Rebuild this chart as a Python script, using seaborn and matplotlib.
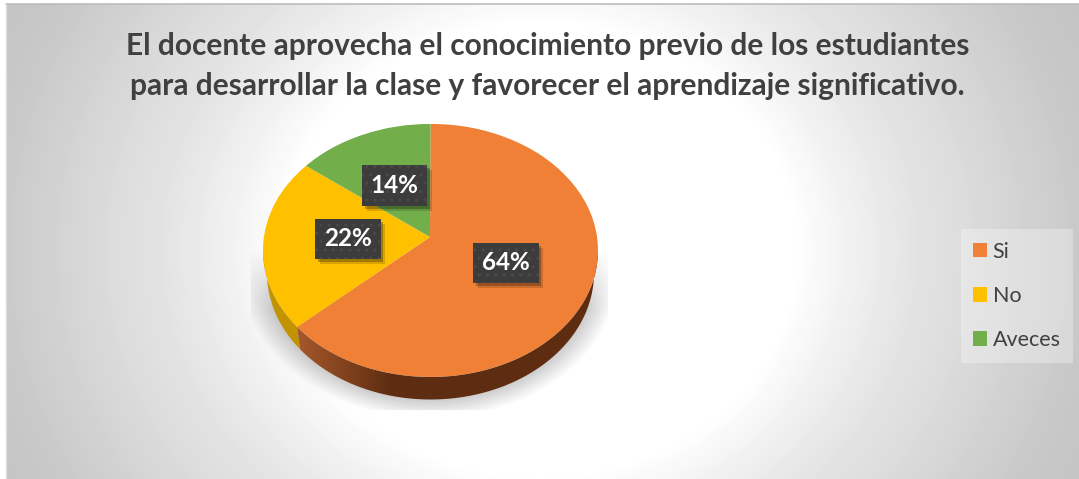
import numpy as np
import matplotlib
matplotlib.use("Agg")
import matplotlib.pyplot as plt
from matplotlib.patches import PathPatch
from matplotlib.path import Path
import matplotlib.patheffects as pe
import seaborn as sns

title_lines = ["El docente aprovecha el conocimiento previo de los estudiantes",
               "para desarrollar la clase y favorecer el aprendizaje significativo."]
categories = ["Si", "No", "Aveces"]
shares = [64, 22, 14]
colors = ["#F08035", "#FFC000", "#72AE4A"]

W, H = 1079, 479
sns.set_theme(style="white")
plt.rcParams["font.family"] = ["Lato", "DejaVu Sans"]
palette = sns.color_palette(colors)
TXT = "#404040"

fig = plt.figure(figsize=(W / 100, H / 100), dpi=100, facecolor="white")

# --- chart area with radial gradient
L, T = 6, 4
bg = fig.add_axes([L / W, 0, (W - L) / W, (H - T) / H], zorder=0)
bg.set_axis_off()
xx, yy = np.meshgrid(np.arange(L, W) + .5, np.arange(T, H) + .5)
r = np.sqrt(((xx - 540) / 255) ** 2 + ((yy - 250) / 225) ** 2)
shade = np.interp(r, [1, 1.22, 1.48, 1.68, 2.15, 2.35], [255, 241, 227, 220, 200, 196])
# soft shadow below the pie
d = np.sqrt(((xx - 430) / 180) ** 2 + ((yy - 272) / 140) ** 2)
sh = np.clip((1.05 - d) / .16, 0, 1) * 0.23
sh *= np.clip((yy - 250) / 60, 0, 1)
sh[(xx < 251) | (xx > 608) | (yy > 410)] = 0
shade = shade * (1 - sh)
bg.imshow(shade, cmap="gray", vmin=0, vmax=255, aspect="auto",
          extent=(L, W, H, T), interpolation="bilinear")
bg.set_xlim(L, W); bg.set_ylim(H, T)
fig.add_artist(plt.Line2D([L / W, 1], [1 - (T - .5) / H] * 2, color="#bcbcbc", lw=1.2))
fig.add_artist(plt.Line2D([(L - .5) / W] * 2, [0, 1 - T / H], color="#dcdcdc", lw=1))

# --- pie axes: x -1..1 => 263..598 px, y -1..1 => 377..124 px
X0, X1, Y0, Y1 = 263, 598, 124, 377
ax = fig.add_axes([X0 / W, 1 - Y1 / H, (X1 - X0) / W, (Y1 - Y0) / H], zorder=1)
wedges, _, autotexts = ax.pie(shares, colors=palette, startangle=90, counterclock=False,
                              autopct=lambda p: f"{p:.0f}%", radius=1, frame=False)
ax.patch.set_visible(False)
ax.set_aspect("auto")
ax.set_xlim(-1, 1); ax.set_ylim(-1, 1)
ax.set_axis_off()
for w in wedges:
    w.set_linewidth(0)
    w.set_zorder(4)


def px(x, y):
    return (x - X0) / (X1 - X0) * 2 - 1, 1 - (y - Y0) / (Y1 - Y0) * 2


TILT = np.deg2rad(3.1)


def tilt(theta):
    """Perspective: angles measured from the top slide slightly towards it."""
    return theta - TILT * np.sin(theta)


# apex of the tilted disc sits above the ellipse centre
apex = px(430, 237)
for w in wedges:
    v = w.get_path().vertices
    rad = np.hypot(v[:, 0], v[:, 1])
    th = np.arctan2(v[:, 0], v[:, 1])
    th = tilt(th)
    v[:, 0] = rad * np.sin(th)
    v[:, 1] = rad * np.cos(th)
    v[rad < 1e-6] = apex

# --- side wall, from the shares
cum = np.cumsum(shares) / np.sum(shares)
ang_oy = np.pi / 2 + tilt(2 * np.pi * (1 - cum[0])) - 2 * np.pi  # orange/yellow boundary
rim_cy = px(430, 273)[1]


def wall(a0, a1):
    t = np.linspace(a0, a1, 80)
    top = np.column_stack([np.cos(t), np.sin(t)])
    low = np.column_stack([np.cos(t[::-1]) * 0.976, np.sin(t[::-1]) + rim_cy])
    return Path(np.vstack([top, low, top[:1]]), closed=True)


p_or = wall(ang_oy, 0.0)
p_ye = wall(-np.pi, ang_oy)
ax.add_patch(PathPatch(p_ye, fc="#C29200", lw=0, zorder=2, clip_on=False))
gx = np.linspace(0, 1, 256)
gradv = np.clip(gx / .32, 0, 1)[None, :]
rgb0 = np.array([0.66, 0.35, 0.17])
rgb1 = np.array([0.37, 0.18, 0.07])
grad = (rgb0[None, None, :] * (1 - gradv[..., None]) + rgb1[None, None, :] * gradv[..., None])
im = ax.imshow(grad, extent=(-0.82, 1, -1.3, 0), aspect="auto", zorder=3, interpolation="bilinear")
im.set_clip_box(fig.bbox)
im.set_clip_path(PathPatch(p_or, transform=ax.transData))
ax.set_xlim(-1, 1); ax.set_ylim(-1, 1)
ax.set_aspect("auto")


class PlainShadow(pe.SimplePatchShadow):
    """Patch shadow that does not repeat the hatch of the box."""

    def draw_path(self, renderer, gc, tpath, affine, rgbFace):
        gc0 = renderer.new_gc()
        gc0.copy_properties(gc)
        gc0.set_hatch(None)
        super().draw_path(renderer, gc0, tpath, affine, rgbFace)
        gc0.restore()


# --- data labels
label_centres = [(506, 263), (348, 239), (394.5, 185.5)]
for t, c in zip(autotexts, label_centres):
    t.set_position(px(*c))
    t.set(ha="center", va="center", color="white", fontweight="bold", fontsize=17.5, zorder=6,
          clip_on=False)
    t.set_bbox(dict(boxstyle="square,pad=0.36", fc="#3c3c3c", ec="#4a4a4a", hatch="..", lw=0))
    t.get_bbox_patch().set_path_effects(
        [PlainShadow(offset=(3.5, -3.5), shadow_rgbFace="#000000", alpha=.15),
         PlainShadow(offset=(2, -2), shadow_rgbFace="#000000", alpha=.25), pe.Normal()])

# --- title
for line, y in zip(title_lines, (46, 86)):
    fig.text(547.5 / W, 1 - y / H, line, ha="center", va="center", fontsize=21.5,
             fontweight="bold", color=TXT, zorder=5)

# --- legend
leg = fig.legend(wedges, categories, loc="center left", bbox_to_anchor=(961 / W, 1 - 296 / H),
                 fontsize=15.5, frameon=True, fancybox=False, framealpha=.3, facecolor="white",
                 edgecolor="none", handlelength=.64, handleheight=.64, handletextpad=.25,
                 labelspacing=1.12, borderpad=.58, borderaxespad=0, labelcolor=TXT)
leg.set_zorder(5)
fig.savefig("out.png", dpi=100)
